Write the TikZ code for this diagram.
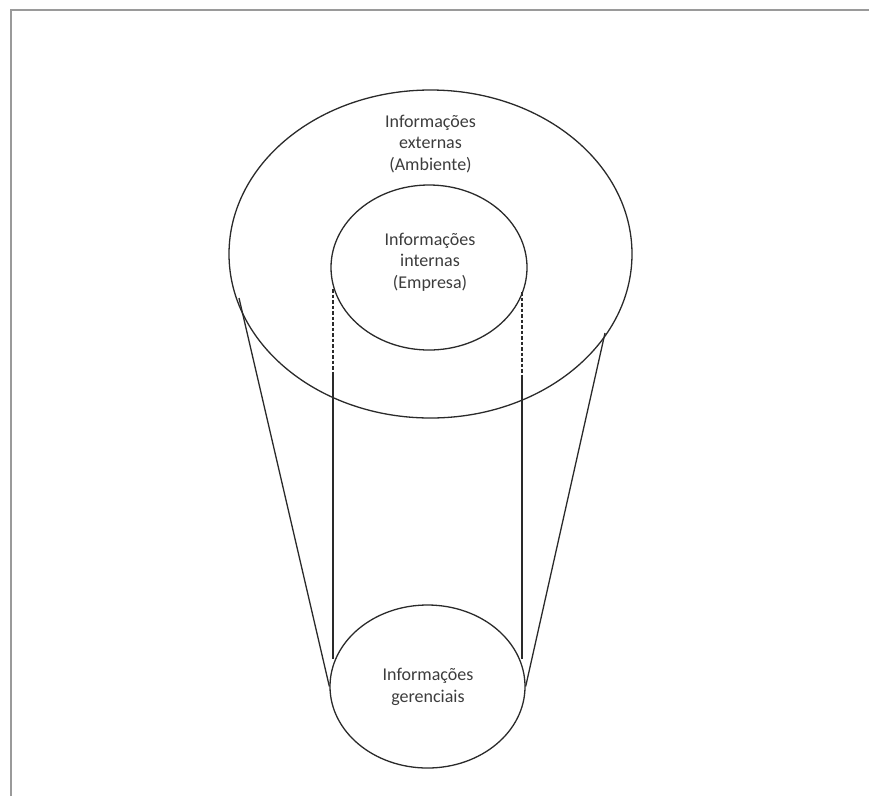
\documentclass[tikz,border=0pt]{standalone}
\usepackage{fontspec}
\setmainfont{Carlito}
\usetikzlibrary{shapes.geometric}
\definecolor{ink}{HTML}{2A2A2A}
\definecolor{txt}{HTML}{3C3C3C}
\definecolor{framegray}{HTML}{9A9A9A}
\tikzset{
  disc/.style={draw=ink, line width=1.3pt, ellipse, inner sep=0pt},
  lbl/.style={text=txt, align=center, font=\fontsize{18}{21.5}\selectfont},
  edge/.style={draw=ink, line width=1.3pt},
  hidden/.style={draw=ink, line width=1.3pt, dash pattern=on 3.5pt off 2pt}
}
\begin{document}
\begin{tikzpicture}[x=1pt,y=-1pt]
\useasboundingbox (0,0) rectangle (869,796);
% frame
\draw[framegray, line width=2pt] (10.5,796) -- (10.5,9.5) -- (869,9.5);
% ellipses
\node[disc, minimum width=403pt, minimum height=328pt] (outer) at (430.5,254) {};
\node[disc, minimum width=196pt, minimum height=165pt] (inner) at (429,267.5) {};
\node[disc, minimum width=195pt, minimum height=163pt] (bottom) at (427.5,686.5) {};
% labels
\node[lbl] (lout) at (430.5,144) {Informações\\externas\\(Ambiente)};
\node[lbl] (lin) at (430,262) {Informações\\internas\\(Empresa)};
\node[lbl] (lbot) at (428,687) {Informações\\gerenciais};
% vertical lines
\coordinate (l1) at (333,289);
\coordinate (l2) at (333,375);
\coordinate (l3) at (333,659);
\coordinate (r1) at (522,292);
\coordinate (r2) at (522,378);
\coordinate (r3) at (522,659);
\draw[hidden] (l1) -- (l2);
\draw[edge] (l2) -- (l3);
\draw[hidden] (r1) -- (r2);
\draw[edge] (r2) -- (r3);
% tapered lines
\coordinate (tl) at (239,298);
\coordinate (tr) at (605,333);
\draw[edge] (tl) -- (bottom.west);
\draw[edge] (tr) -- (bottom.east);
\end{tikzpicture}
\end{document}
